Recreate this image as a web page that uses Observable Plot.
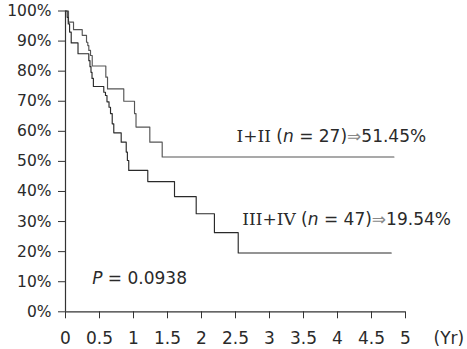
<!DOCTYPE html>
<html>
<head>
<meta charset="utf-8">
<script src="https://cdn.jsdelivr.net/npm/d3@7"></script>
<script src="https://cdn.jsdelivr.net/npm/@observablehq/plot@0.6"></script>
<style>
  html, body { margin: 0; padding: 0; background: #fff; }
  #chart { width: 467px; height: 349px; }
</style>
</head>
<body>
<div id="chart"></div>
<script>
// Kaplan-Meier survival (years, % surviving)
const tI   = [0, 0.044, 0.118, 0.246, 0.309, 0.328, 0.343, 0.368, 0.393, 0.593, 0.618, 0.857, 1.015, 1.037, 1.24, 1.422, 4.83];
const sI   = [100, 96.3, 93.8, 91.9, 89.6, 88.5, 86.9, 85.2, 81.7, 78.0, 74.1, 70.0, 65.9, 61.4, 56.4, 51.45, 51.45];
const tIII = [0, 0.025, 0.04, 0.06, 0.084, 0.184, 0.343, 0.36, 0.375, 0.39, 0.41, 0.563, 0.588, 0.61, 0.64, 0.662, 0.687, 0.71, 0.819, 0.893, 0.91, 0.93, 1.21, 1.603, 1.922, 2.19, 2.54, 4.79];
const sIII = [100, 97.9, 95.7, 93.0, 89.4, 85.8, 83.5, 81.5, 79.6, 77.6, 74.9, 73.0, 71.9, 69.8, 68.0, 65.9, 62.5, 59.5, 56.4, 53.1, 50.3, 47.0, 43.3, 38.3, 32.6, 26.3, 19.54, 19.54];

const xTicks = [0, 0.5, 1, 1.5, 2, 2.5, 3, 3.5, 4, 4.5, 5];
const yTicks = [0, 10, 20, 30, 40, 50, 60, 70, 80, 90, 100];

const groupLabels = ["I+II (n = 27)⇒51.45%", "III+IV (n = 47)⇒19.54%"];
const groupFinal  = [51.45, 19.54];
const pLabel = "P = 0.0938";
const xUnit = "(Yr)";

const curveI   = tI.map((t, i) => ({t, s: sI[i]}));
const curveIII = tIII.map((t, i) => ({t, s: sIII[i]}));

const ink = "#2a2a2a";

const plot = Plot.plot({
  width: 467,
  height: 349,
  marginLeft: 65,
  marginRight: 62,
  marginTop: 10.5,
  marginBottom: 37.7,
  style: {fontFamily: "'DejaVu Sans', Verdana, sans-serif", fontSize: "16px", color: ink, background: "#fff"},
  x: {domain: [0, 5]},
  y: {domain: [0, 100]},
  marks: [
    Plot.ruleX([0], {stroke: "#333", strokeWidth: 1.2}),
    Plot.ruleY([0], {stroke: "#333", strokeWidth: 1.2}),
    Plot.axisY({ticks: yTicks, tickFormat: d => d + "%", tickSize: 7, tickPadding: 7, label: null, fontSize: 15.5, stroke: "#333", fill: ink}),
    Plot.axisX({ticks: xTicks, tickFormat: d => String(d), tickSize: 7, tickPadding: 13, label: null, fontSize: 17, stroke: "#333", fill: ink}),
    Plot.line(curveI,   {x: "t", y: "s", curve: "step-after", stroke: "#555", strokeWidth: 1.15}),
    Plot.line(curveIII, {x: "t", y: "s", curve: "step-after", stroke: "#2a2a2a", strokeWidth: 1.15}),
    Plot.text([groupLabels[0]], {x: 2.515, y: groupFinal[0], text: d => d, textAnchor: "start", lineAnchor: "bottom", dy: -15, fontSize: 17, fill: ink, className: "lbl"}),
    Plot.text([groupLabels[1]], {x: 2.6, y: groupFinal[1], text: d => d, textAnchor: "start", lineAnchor: "bottom", dy: -28.5, fontSize: 17, fill: ink, className: "lbl"}),
    Plot.text([pLabel], {frameAnchor: "bottom-left", text: d => d, textAnchor: "start", lineAnchor: "bottom", dx: 26.7, dy: -28, fontSize: 17, fill: ink, className: "plbl"}),
    Plot.text([xUnit], {frameAnchor: "bottom-right", text: d => d, textAnchor: "start", lineAnchor: "bottom", dx: 28, dy: 31.7, fontSize: 17, fill: ink})
  ]
});

// rich text: serif roman numerals, italic n / P, light arrow
const svg = d3.select(plot);
svg.selectAll("g.lbl text").each(function() {
  const txt = this.textContent;
  const m = txt.match(/^([IV+]+)( \()(n)( = \d+\))(⇒)(.*)$/);
  if (!m) return;
  const el = d3.select(this);
  el.text(null);
  el.append("tspan").attr("font-family", "'DejaVu Serif', serif").text(m[1]);
  el.append("tspan").text(m[2]);
  el.append("tspan").attr("font-style", "italic").text(m[3]);
  el.append("tspan").text(m[4]);
  el.append("tspan").attr("fill", "#888").text(m[5]);
  el.append("tspan").text(m[6]);
});
svg.selectAll("g.plbl text").each(function() {
  const txt = this.textContent;
  const el = d3.select(this);
  el.text(null);
  el.append("tspan").attr("font-style", "italic").text(txt.slice(0, 1));
  el.append("tspan").text(txt.slice(1));
});

document.getElementById("chart").appendChild(plot);
</script>
</body>
</html>
